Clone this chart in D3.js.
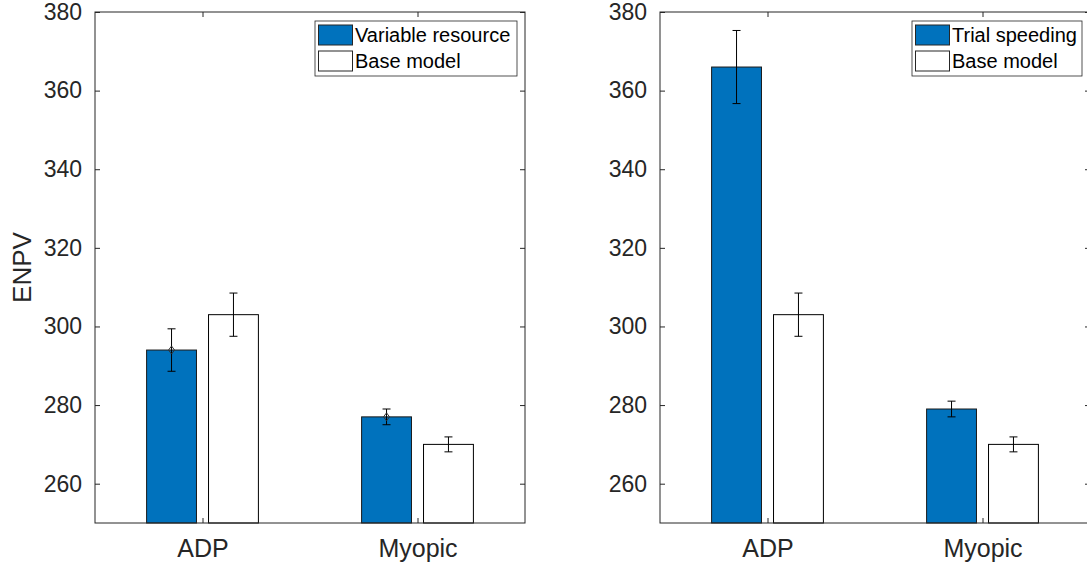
<!DOCTYPE html>
<html>
<head>
<meta charset="utf-8">
<script src="https://cdn.jsdelivr.net/npm/d3@7"></script>
<style>
  body { margin: 0; background: #fff; }
  svg text { font-family: "Liberation Sans", Arial, sans-serif; fill: #262626; }
</style>
</head>
<body>
<svg width="1087" height="567"></svg>
<script>
// Data
const categories = ["ADP", "Myopic"]
const yTicks = [260, 280, 300, 320, 340, 360, 380]

const baseModel = [303, 270]
const baseModelErr = [5.5, 1.9]

const variableResource = [294, 277]
const variableResourceErr = [5.4, 2.0]

const trialSpeeding = [366, 279]
const trialSpeedingErr = [9.3, 2.0]

const svg = d3.select("svg")
const axisColor = "#262626"
const blue = "#0072BD"

// Draw one panel
function drawPanel(left, label, values, errs, showMarker, showYLabel) {
    const top = 12, bottom = 523, w = 430
    const g = svg.append("g")

    const x = d3.scaleLinear().domain([0.5, 2.5]).range([left, left + w])
    const y = d3.scaleLinear().domain([250, 380]).range([bottom, top])

    const barW = 0.232, off = 0.144
    const series = [
        { name: label, vals: values, errs: errs, fill: blue, stroke: "#1a1a1a", dx: -off, marker: showMarker },
        { name: "Base model", vals: baseModel, errs: baseModelErr, fill: "#fff", stroke: "#000", dx: off, marker: false }
    ]

    // bars
    series.forEach(s => {
        g.selectAll(null)
            .data(s.vals)
            .join("rect")
            .attr("x", (d, i) => x(i + 1 + s.dx - barW / 2))
            .attr("y", d => y(d))
            .attr("width", x(1 + barW) - x(1))
            .attr("height", d => y(250) - y(d))
            .attr("fill", s.fill)
            .attr("stroke", s.stroke)
            .attr("stroke-width", 1)
    })

    // error bars
    series.forEach(s => {
        const eb = g.selectAll(null)
            .data(s.vals.map((v, i) => ({ v: v, e: s.errs[i], cx: x(i + 1 + s.dx) })))
            .join("g")
        eb.append("line")
            .attr("x1", d => d.cx).attr("x2", d => d.cx)
            .attr("y1", d => y(d.v - d.e)).attr("y2", d => y(d.v + d.e))
            .attr("stroke", "#000").attr("stroke-width", 1)
        eb.selectAll("line.cap")
            .data(d => [d.v - d.e, d.v + d.e].map(yy => ({ cx: d.cx, yy: yy })))
            .join("line")
            .attr("class", "cap")
            .attr("x1", d => d.cx - 4).attr("x2", d => d.cx + 4)
            .attr("y1", d => y(d.yy)).attr("y2", d => y(d.yy))
            .attr("stroke", "#000").attr("stroke-width", 1)
        if (s.marker) {
            eb.append("path")
                .attr("d", d => `M${d.cx},${y(d.v) - 4}L${d.cx + 3},${y(d.v)}L${d.cx},${y(d.v) + 4}L${d.cx - 3},${y(d.v)}Z`)
                .attr("fill", "none")
                .attr("stroke", "#333").attr("stroke-width", 1)
        }
    })

    // box
    g.append("rect")
        .attr("x", left).attr("y", top)
        .attr("width", w).attr("height", bottom - top)
        .attr("fill", "none").attr("stroke", axisColor).attr("stroke-width", 1)

    // axes
    const yAxis = d3.axisLeft(y).tickValues(yTicks).tickSize(-5).tickPadding(13)
    const ya = g.append("g").attr("transform", `translate(${left},0)`).call(yAxis)
    ya.select(".domain").remove()
    ya.selectAll("line").attr("stroke", axisColor)
    ya.selectAll("text").attr("font-size", 23).style("fill", axisColor)
        .attr("font-family", "Liberation Sans, Arial, sans-serif")

    const yr = g.append("g").attr("transform", `translate(${left + w},0)`)
        .call(d3.axisRight(y).tickValues(yTicks).tickSize(-5).tickFormat(""))
    yr.select(".domain").remove()
    yr.selectAll("line").attr("stroke", axisColor)

    const xAxis = d3.axisBottom(x).tickValues([1, 2]).tickFormat((d, i) => categories[i]).tickSize(-5).tickPadding(16)
    const xa = g.append("g").attr("transform", `translate(0,${bottom})`).call(xAxis)
    xa.select(".domain").remove()
    xa.selectAll("line").attr("stroke", axisColor)
    xa.selectAll("text").attr("font-size", 25).style("fill", axisColor)
        .attr("font-family", "Liberation Sans, Arial, sans-serif")

    const xt = g.append("g").attr("transform", `translate(0,${top})`)
        .call(d3.axisTop(x).tickValues([1, 2]).tickSize(-5).tickFormat(""))
    xt.select(".domain").remove()
    xt.selectAll("line").attr("stroke", axisColor)

    if (showYLabel) {
        g.append("text")
            .attr("transform", `translate(31,${(top + bottom) / 2}) rotate(-90)`)
            .attr("text-anchor", "middle")
            .attr("font-size", 26)
            .text("ENPV")
    }

    // legend
    const lgW = label.length > 15 ? 202 : 170
    const lx = left + w - 8 - lgW, ly = 21
    const lg = g.append("g").attr("transform", `translate(${lx},${ly})`)
    lg.append("rect").attr("width", lgW).attr("height", 55)
        .attr("fill", "#fff").attr("stroke", "#262626").attr("stroke-width", 0.8)
    series.forEach((s, i) => {
        lg.append("rect")
            .attr("x", 3.5).attr("y", 4 + i * 26)
            .attr("width", 34).attr("height", 20)
            .attr("fill", s.fill).attr("stroke", "#262626").attr("stroke-width", 1)
        lg.append("text")
            .attr("x", 40).attr("y", 21 + i * 26)
            .attr("font-size", 20).style("fill", "#000")
            .text(s.name)
    })
}

drawPanel(95, "Variable resource", variableResource, variableResourceErr, true, true)
drawPanel(660, "Trial speeding", trialSpeeding, trialSpeedingErr, false, false)
</script>
</body>
</html>
